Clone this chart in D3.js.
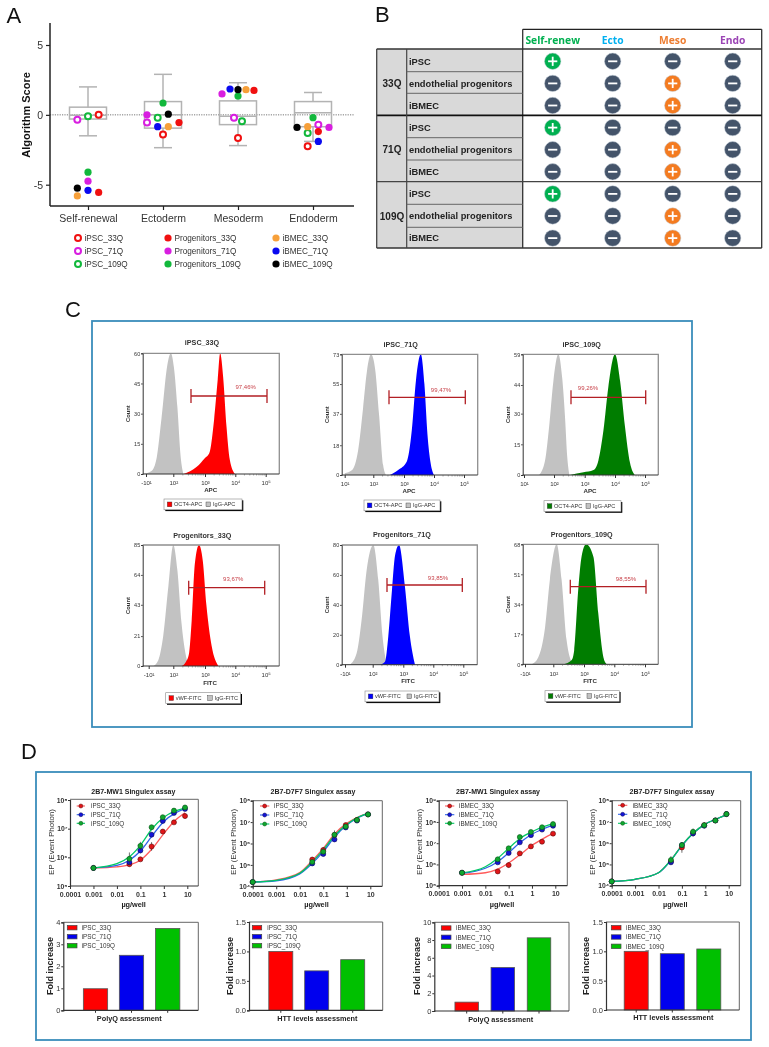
<!DOCTYPE html>
<html><head><meta charset="utf-8">
<script src="https://cdnjs.cloudflare.com/ajax/libs/d3/7.8.5/d3.min.js"></script>
<style>
html,body{margin:0;padding:0;background:#fff}
svg{display:block;filter:blur(0.5px)}
text{font-family:"Liberation Sans",Arial,sans-serif}
</style></head><body>
<svg id="c" width="769" height="1047"></svg>
<script>
/* ---------- Panel A data ---------- */
const aCategories = ["Self-renewal","Ectoderm","Mesoderm","Endoderm"];
const aGroups = ["iPSC_33Q","iPSC_71Q","iPSC_109Q","Progenitors_33Q","Progenitors_71Q","Progenitors_109Q","iBMEC_33Q","iBMEC_71Q","iBMEC_109Q"];
const aWhiskerLow  = [-1.5,-2.35,-2.2,-1.9];
const aQ1          = [-0.3,-0.95,-0.7,-0.85];
const aMedian      = [-0.03,0.0,-0.1,0.15];
const aQ3          = [0.55,0.95,1.0,0.95];
const aWhiskerHigh = [2.0,2.9,2.3,1.6];
const aScores = {
  "iPSC_33Q":[0,-1.4,-1.65,-2.25], "iPSC_71Q":[-0.35,-0.55,-0.2,-0.7], "iPSC_109Q":[-0.1,-0.2,-0.45,-1.3],
  "Progenitors_33Q":[-5.55,-0.55,1.75,-1.2], "Progenitors_71Q":[-4.75,0,1.5,-0.9], "Progenitors_109Q":[-4.1,0.85,1.35,-0.2],
  "iBMEC_33Q":[-5.8,-0.85,1.8,-0.85], "iBMEC_71Q":[-5.4,-0.85,1.85,-1.9], "iBMEC_109Q":[-5.25,0.05,1.8,-0.9]
};
const aJitter = {
  "iPSC_33Q":[2,0,0,-1], "iPSC_71Q":[-2,-3,-0.75,1], "iPSC_109Q":[0,-1,0.75,-1],
  "Progenitors_33Q":[2,3,3,1], "Progenitors_71Q":[0,-3,-3,3], "Progenitors_109Q":[0,0,0,0],
  "iBMEC_33Q":[-2,1,1.5,-1], "iBMEC_71Q":[0,-1,-1.5,1], "iBMEC_109Q":[-2,1,0,-3]
};
const aYTicks = [5,0,-5];

/* ---------- Panel B data ---------- */
const bColumns = ["Self-renew","Ecto","Meso","Endo"];
const bPassages = ["33Q","71Q","109Q"];
const bRows = ["iPSC","endothelial progenitors","iBMEC"];
const bMatrix = [
  ["+","-","-","-"],["-","-","+","-"],["-","-","+","-"],
  ["+","-","-","-"],["-","-","+","-"],["-","-","+","-"],
  ["+","-","-","-"],["-","-","+","-"],["-","-","+","-"]
];

/* ---------- Panel C data: [log position on the biexponential axis, count] ---------- */
const flowTitles = ["iPSC_33Q","iPSC_71Q","iPSC_109Q","Progenitors_33Q","Progenitors_71Q","Progenitors_109Q"];
const flowPercents = ["97,46%","99,47%","99,26%","93,67%","93,85%","98,55%"];
const flowYTicks = [[0,15,30,45,60],[0,18,37,55,73],[0,15,30,44,59],[0,21,43,64,85],[0,20,40,60,80],[0,17,34,51,68]];
const flowXTicksA = ["-10¹","10²","10³","10⁴","10⁵"];
const flowXTicksB = ["10¹","10²","10³","10⁴","10⁵"];
const isoType1 = [[0.9,0],[1.2,1.5],[1.39,8],[1.57,28],[1.78,54],[1.91,60],[2.02,53],[2.13,33],[2.23,9],[2.32,0]];
const stain1   = [[2.32,0],[2.74,3.6],[3,8],[3.14,10.3],[3.3,27],[3.42,47],[3.5,60],[3.6,48],[3.71,23.5],[3.82,7],[3.99,0]];
const isoType2 = [[1,1],[1.26,3],[1.47,15],[1.64,40],[1.78,63],[1.92,73],[2.06,64],[2.19,36],[2.32,6],[2.41,0]];
const stain2   = [[2.54,0],[2.81,3],[3.09,8],[3.26,27],[3.4,57.5],[3.56,73],[3.68,55],[3.78,25],[3.89,7],[4,0]];
const isoType3 = [[1.5,0],[1.7,7],[1.84,24],[1.98,46],[2.14,59],[2.27,47],[2.36,28],[2.43,9],[2.5,0]];
const stain3   = [[2.52,0],[2.96,1.3],[3.29,2.4],[3.45,7],[3.62,22],[3.78,43],[4,59],[4.17,46],[4.33,24],[4.5,6],[4.66,0]];
const isoType4 = [[1.19,0],[1.39,4],[1.59,21],[1.8,56],[2,85],[2.13,67],[2.26,30],[2.4,7],[2.49,0]];
const stain4   = [[2.26,0],[2.4,3],[2.49,8],[2.58,32],[2.68,72],[2.81,85],[2.93,74],[3.05,42],[3.22,14],[3.44,0]];
const isoType5 = [[1.18,0],[1.42,7.6],[1.6,30],[1.78,63],[2.02,80],[2.18,57],[2.32,19],[2.46,0]];
const stain5   = [[2.24,0],[2.4,2],[2.51,19],[2.63,50],[2.73,73],[2.86,80],[3.05,53],[3.22,19],[3.39,0]];
const isoType6 = [[1.24,0],[1.47,4],[1.71,21],[1.88,48],[2.11,68],[2.27,48],[2.43,14],[2.63,0]];
const stain6   = [[2.33,0],[2.6,2.5],[2.68,8],[2.82,44],[2.92,61],[3.07,68],[3.31,61],[3.47,29],[3.64,4],[3.75,0]];

/* ---------- Panel D data: log10 of event photons ---------- */
const dDoseLabels = ["0.0001","0.001","0.01","0.1","1","10"];
const dDoseTicks = [0.0001,0.001,0.01,0.1,1,10];
const doses1000 = [0.001,0.034,0.1,0.3,0.9,2.7,8];
const doses10000 = [0.0001,0.034,0.1,0.3,0.9,2.7,8];
const curveDoses1000 = [0.001,0.01,0.034,0.1,0.316,1,3.16,8];
const curveDoses10000 = [0.0001,0.001,0.01,0.034,0.1,0.316,1,3.16,8];
const s1pts33=[5.63,5.76,5.93,6.38,6.9,7.22,7.44], s1pts71=[5.63,5.83,6.24,6.79,7.27,7.55,7.69], s1pts109=[5.63,5.95,6.4,7.05,7.4,7.63,7.74];
const s1fit33=[5.63,5.67,5.74,5.9,6.3,6.83,7.3,7.55], s1fit71=[5.63,5.72,5.9,6.22,6.75,7.25,7.55,7.7], s1fit109=[5.63,5.78,6.02,6.42,7.0,7.4,7.62,7.72];
const s1err33=[0,0.08,0.05,0.15,0.08,0.05,0.1], s1err71=[0,0.1,0.1,0.08,0.06,0.06,0.05], s1err109=[0,0.22,0.14,0.06,0.06,0.06,0.08];
const s2pts33=[4.2,5.25,5.7,6.4,6.86,7.1,7.36], s2pts71=[4.2,5.07,5.51,6.19,6.75,7.07,7.36], s2pts109=[4.2,5.14,5.62,6.41,6.79,7.1,7.36];
const s2fit33=[4.2,4.3,4.64,5.2,5.77,6.47,6.94,7.25,7.41], s2fit71=[4.2,4.26,4.58,5.07,5.62,6.32,6.86,7.22,7.41], s2fit109=[4.2,4.28,4.61,5.14,5.7,6.4,6.89,7.24,7.41];
const s2err33=[0,0.12,0.12,0.1,0.08,0.05,0.04], s2err71=[0,0.08,0.1,0.1,0.08,0.06,0.04], s2err109=[0,0.1,0.15,0.2,0.1,0.06,0.04];
const s3pts33=[5.61,5.67,5.97,6.52,6.85,7.07,7.45], s3pts71=[5.61,6.1,6.54,7.04,7.38,7.64,7.82], s3pts109=[5.61,6.24,6.76,7.29,7.53,7.75,7.9];
const s3fit33=[5.53,5.61,5.78,6.07,6.47,6.9,7.23,7.46], s3fit71=[5.58,5.82,6.13,6.55,7.04,7.42,7.68,7.85], s3fit109=[5.6,5.89,6.29,6.76,7.23,7.54,7.78,7.92];
const s3err33=[0.05,0.06,0.12,0.06,0.05,0.05,0.06], s3err71=[0.05,0.06,0.06,0.06,0.06,0.06,0.05], s3err109=[0.05,0.06,0.06,0.08,0.06,0.06,0.06];
const s4pts33=[4.2,5.15,5.8,6.49,6.85,7.07,7.37], s4pts71=[4.2,5.1,5.91,6.46,6.82,7.07,7.37], s4pts109=[4.2,5.21,5.91,6.54,6.85,7.07,7.37];
const s4fit33=[4.2,4.3,4.61,5.21,5.9,6.49,6.9,7.15,7.33], s4fit71=[4.2,4.3,4.61,5.2,5.88,6.48,6.9,7.15,7.33], s4fit109=[4.2,4.3,4.61,5.21,5.9,6.49,6.9,7.15,7.33];
const s4err33=[0,0.12,0.25,0.15,0.12,0.05,0.04], s4err71=[0,0.12,0.12,0.15,0.12,0.05,0.04], s4err109=[0,0.18,0.12,0.15,0.12,0.05,0.04];
const ipscLabels = ["iPSC_33Q","iPSC_71Q","iPSC_109Q"];
const ibmecLabels = ["iBMEC_33Q","iBMEC_71Q","iBMEC_109Q"];
const foldPolyQipsc = [0.98,2.5,3.72], foldHTTipsc = [1.0,0.67,0.86];
const foldPolyQibmec = [1.0,4.9,8.25], foldHTTibmec = [1.0,0.96,1.04];

/* ---------- styles ---------- */
const markerColors = {"iPSC_33Q":"#f01010","iPSC_71Q":"#d81ee0","iPSC_109Q":"#12b83c","Progenitors_33Q":"#f01010","Progenitors_71Q":"#d81ee0","Progenitors_109Q":"#12b83c","iBMEC_33Q":"#f7a03a","iBMEC_71Q":"#0a0af0","iBMEC_109Q":"#000"};
const bColColors = ["#00b050","#00b0f0","#ed7d31","#9b45b5"];
const svg = d3.select("#c");
function txt(g,x,y,s,o={}){
  const t=g.append("text").attr("x",x).attr("y",y).attr("dy","0.35em").text(s)
    .attr("font-size",o.size||8).attr("font-weight",o.weight||"normal")
    .attr("text-anchor",o.anchor||"start").attr("fill",o.fill||"#222");
  if(o.family) t.style("font-family",o.family);
  if(o.spacing) t.attr("letter-spacing",o.spacing);
  if(o.rotate) t.attr("transform",`rotate(${o.rotate} ${x} ${y})`);
  return t;
}
const panelLetter=(x,y,s)=>txt(svg,x,y,s,{size:22,fill:"#111"});
panelLetter(6.5,15,"A");panelLetter(375,14,"B");panelLetter(65,309,"C");panelLetter(21,751,"D");

/* ---------- Panel A ---------- */
(function(){
  const g=svg.append("g");
  const y=d3.scaleLinear().domain([-5,5]).range([184.7,45]);
  const x=d3.scalePoint().domain(aCategories).range([88,313]);
  const boxW=37,capW=18,slot=5.33;
  g.append("line").attr("x1",50).attr("x2",354).attr("y1",y(0)).attr("y2",y(0)).attr("stroke","#777").attr("stroke-dasharray","1.2 1.2").attr("stroke-width",1);
  aCategories.forEach((c,i)=>{
    const b=g.append("g").attr("stroke","#b3b3b3").attr("stroke-width",1.5).attr("fill","none");
    const cx=x(c);
    b.append("line").attr("x1",cx).attr("x2",cx).attr("y1",y(aWhiskerHigh[i])).attr("y2",y(aQ3[i]));
    b.append("line").attr("x1",cx).attr("x2",cx).attr("y1",y(aQ1[i])).attr("y2",y(aWhiskerLow[i]));
    [aWhiskerHigh[i],aWhiskerLow[i]].forEach(v=>b.append("line").attr("x1",cx-capW/2).attr("x2",cx+capW/2).attr("y1",y(v)).attr("y2",y(v)));
    b.append("rect").attr("x",cx-boxW/2).attr("width",boxW).attr("y",y(aQ3[i])).attr("height",y(aQ1[i])-y(aQ3[i]));
    b.append("line").attr("x1",cx-boxW/2).attr("x2",cx+boxW/2).attr("y1",y(aMedian[i])).attr("y2",y(aMedian[i]));
  });
  aGroups.forEach(gr=>{
    const hollow=gr.startsWith("iPSC");
    g.selectAll(null).data(aScores[gr]).join("circle")
      .attr("cx",(d,i)=>x(aCategories[i])+aJitter[gr][i]*slot).attr("cy",d=>y(d))
      .attr("r",hollow?3:3.6).attr("fill",hollow?"#fff":markerColors[gr])
      .attr("stroke",hollow?markerColors[gr]:"none").attr("stroke-width",hollow?2:0);
  });
  const ax=g.append("g").attr("transform","translate(50,0)").call(d3.axisLeft(y).tickValues(aYTicks).tickSize(4).tickFormat(String));
  ax.select(".domain").remove();
  ax.append("line").attr("y1",23).attr("y2",206).attr("stroke","#222").attr("stroke-width",1.5);
  ax.selectAll(".tick line").attr("stroke","#222").attr("stroke-width",1.2);
  ax.selectAll("text").attr("font-size",10.5).attr("fill","#333").style("font-family","'Liberation Sans'");
  const ax2=g.append("g").attr("transform","translate(0,206)").call(d3.axisBottom(x).tickSize(4));
  ax2.select(".domain").remove();
  ax2.append("line").attr("x1",50).attr("x2",354).attr("stroke","#222").attr("stroke-width",1.5);
  ax2.selectAll(".tick line").attr("stroke","#222").attr("stroke-width",1.2);
  ax2.selectAll("text").attr("font-size",10.5).attr("fill","#333").attr("dy","0.9em").style("font-family","'Liberation Sans'");
  txt(g,25.7,115,"Algorithm Score",{size:11,weight:"bold",anchor:"middle",rotate:-90,fill:"#111"});
  const lx=[78,168,276],ly=[238,251,264];
  aGroups.forEach((gr,i)=>{
    const c=Math.floor(i/3),r=i%3,hollow=gr.startsWith("iPSC");
    g.append("circle").attr("cx",lx[c]).attr("cy",ly[r]).attr("r",hollow?3:3.6)
      .attr("fill",hollow?"#fff":markerColors[gr]).attr("stroke",hollow?markerColors[gr]:"none").attr("stroke-width",hollow?2:0);
    txt(g,lx[c]+6.5,ly[r],gr,{size:8.2,fill:"#333"});
  });
})();

/* ---------- Panel B ---------- */
(function(){
  const g=svg.append("g");
  const L=376.7,C2=406.7,V=522.7,R=761.7,T=29.3,H=49,B=248;
  const rowY=d3.scaleLinear().domain([0,8]).range([61.3,238.1]);
  const colX=d3.scalePoint().domain(bColumns).range([552.7,732.7]);
  g.append("rect").attr("x",L).attr("y",H).attr("width",V-L).attr("height",B-H).attr("fill","#d9d9d9");
  const ln=(x1,y1,x2,y2,w,c)=>g.append("line").attr("x1",x1).attr("y1",y1).attr("x2",x2).attr("y2",y2).attr("stroke-width",w).attr("stroke",c||"#333");
  ln(V,T,R,T,1.3,"#222");ln(R,T,R,B,1.3,"#333");ln(V,T,V,B,1.3,"#333");
  ln(L,H,R,H,1.7,"#333");ln(L,115.3,R,115.3,1.7,"#111");ln(L,181.7,R,181.7,1.2,"#444");ln(L,B,R,B,1.7,"#333");
  ln(L,H,L,B,1.3,"#444");ln(C2,H,C2,B,1.2,"#444");
  [71.7,93.3,137.7,160,204.3,227.3].forEach(v=>ln(C2,v,V,v,1,"#666"));
  bColumns.forEach((c,i)=>txt(g,colX(c),40.3,c,{size:10.3,weight:"bold",anchor:"middle",fill:bColColors[i],family:"'Open Sans'"}));
  bPassages.forEach((p,i)=>txt(g,392,83.3+i*66.4,p,{size:10,weight:"bold",anchor:"middle",fill:"#222"}));
  bMatrix.forEach((row,ri)=>{
    txt(g,409,rowY(ri),bRows[ri%3],{size:9.3,weight:"bold",fill:"#222"});
    row.forEach((v,ci)=>{
      const cx=colX(bColumns[ci]),cy=rowY(ri);
      const f=v==="-"?"#44546a":(ci===0?"#00b050":"#f47b20");
      g.append("circle").attr("cx",cx).attr("cy",cy).attr("r",8.2).attr("fill",f).attr("stroke","#c5ced8").attr("stroke-width",0.5);
      g.append("line").attr("x1",cx-4.6).attr("x2",cx+4.6).attr("y1",cy).attr("y2",cy).attr("stroke","#fff").attr("stroke-width",1.8);
      if(v==="+") g.append("line").attr("x1",cx).attr("x2",cx).attr("y1",cy-4.6).attr("y2",cy+4.6).attr("stroke","#fff").attr("stroke-width",1.8);
    });
  });
})();

/* ---------- Panel C ---------- */
svg.append("rect").attr("x",92).attr("y",321).attr("width",600).attr("height",406).attr("fill","none").attr("stroke","#3a8dbb").attr("stroke-width",1.8);
const flowLayout=[
 {l:142.7,r:279.3,t:353.3,b:474,ticks:[146,173.3,205,235.3,265.7],tx:202,ty:342.7,gy:396,g0:191,g1:267,px:245.7,py:387,lx:164,ly:499,lw:78,xn:"APC",xl:210.7,xy:490,c:"#ff0000",iso:isoType1,st:stain1,ft:flowXTicksA,ln:"OCT4-APC",ln2:"IgG-APC"},
 {l:341.7,r:477.7,t:354.3,b:475,ticks:[344.7,373.3,404,434,464],tx:400.7,ty:344.5,gy:397.3,g0:389,g1:465.3,px:441,py:389.7,lx:364,ly:500,lw:76,xn:"APC",xl:409,xy:491,c:"#0000ff",iso:isoType2,st:stain2,ft:flowXTicksB,ln:"OCT4-APC",ln2:"IgG-APC"},
 {l:522.7,r:658.3,t:354.3,b:475,ticks:[524,554,584.7,615,645],tx:581.7,ty:344.5,gy:397.3,g0:571,g1:645.7,px:588,py:388,lx:544,ly:500.7,lw:77,xn:"APC",xl:590,xy:491,c:"#007d00",iso:isoType3,st:stain3,ft:flowXTicksB,ln:"OCT4-APC",ln2:"IgG-APC"},
 {l:142.7,r:279.3,t:545,b:666,ticks:[148.7,173.3,205,235.3,265.7],tx:202.3,ty:535,gy:587.7,g0:188.7,g1:264.7,px:233.3,py:578.7,lx:165.7,ly:692.7,lw:75,xn:"FITC",xl:210,xy:682.7,c:"#ff0000",iso:isoType4,st:stain4,ft:flowXTicksA,ln:"vWF-FITC",ln2:"IgG-FITC"},
 {l:341.7,r:477.3,t:545,b:664.7,ticks:[345,372.7,403.3,433.3,463.3],tx:402,ty:534.7,gy:585,g0:387,g1:462.3,px:438,py:578,lx:365,ly:691,lw:74,xn:"FITC",xl:408,xy:681,c:"#0000ff",iso:isoType5,st:stain5,ft:flowXTicksA,ln:"vWF-FITC",ln2:"IgG-FITC"},
 {l:522.7,r:658.3,t:544.3,b:664.3,ticks:[525,553.3,584,614.3,645],tx:581.7,ty:534,gy:586.7,g0:570.3,g1:646,px:626,py:579,lx:545,ly:690.7,lw:74.3,xn:"FITC",xl:590,xy:681,c:"#007d00",iso:isoType6,st:stain6,ft:flowXTicksA,ln:"vWF-FITC",ln2:"IgG-FITC"}
];
flowLayout.forEach((p,i)=>{
  const g=svg.append("g");
  const x=d3.scaleLinear().domain([1,2,3,4,5]).range(p.ticks);
  const yT=flowYTicks[i];
  const y=d3.scaleLinear().domain([0,yT[4]]).range([p.b,p.t]);
  const area=d3.area().x(d=>x(d[0])).y0(p.b).y1(d=>y(d[1])).curve(d3.curveMonotoneX);
  g.append("path").attr("d",area(p.iso)).attr("fill","#c2c2c2");
  g.append("path").attr("d",area(p.st)).attr("fill",p.c);
  g.append("path").attr("d",`M${p.l},${p.t}H${p.r}V${p.b}`).attr("fill","none").attr("stroke","#8f8f8f").attr("stroke-width",1.3);
  const ax=g.append("g").attr("transform",`translate(${p.l},0)`).call(d3.axisLeft(y).tickValues(yT).tickSize(1.5).tickPadding(1).tickFormat(d3.format("d")));
  ax.select(".domain").attr("stroke","#333");ax.selectAll(".tick line").attr("stroke","#333");
  ax.selectAll("text").attr("font-size",5.5).attr("fill","#333").style("font-family","'Liberation Sans'");
  const ax2=g.append("g").attr("transform",`translate(0,${p.b})`).call(d3.axisBottom(x).tickValues([1,2,3,4,5]).tickSize(3).tickFormat((d,k)=>p.ft[k]));
  ax2.select(".domain").remove();
  ax2.append("line").attr("x1",p.l).attr("x2",p.r).attr("stroke","#333");
  ax2.selectAll(".tick line").attr("stroke","#333");
  ax2.selectAll("text").attr("font-size",6).attr("fill","#333").attr("dy","0.9em").style("font-family","'Liberation Sans'");
  const minor=[];for(let dec=2;dec<5;dec++)for(let m=2;m<10;m++)minor.push(dec+Math.log10(m));
  g.selectAll(null).data(minor).join("line").attr("x1",d=>x(d)).attr("x2",d=>x(d)).attr("y1",p.b).attr("y2",p.b+1.5).attr("stroke","#555").attr("stroke-width",0.5);
  txt(g,p.tx,p.ty,flowTitles[i],{size:7.2,weight:"bold",anchor:"middle",fill:"#333"});
  txt(g,p.xl,p.xy,p.xn,{size:6.2,weight:"bold",anchor:"middle",fill:"#333"});
  txt(g,p.l-14.5,(p.t+p.b)/2,"Count",{size:5.8,weight:"bold",anchor:"middle",rotate:-90,fill:"#333"});
  g.append("path").attr("d",`M${p.g0},${p.gy-7}V${p.gy+7}M${p.g0},${p.gy}H${p.g1}M${p.g1},${p.gy-7}V${p.gy+7}`).attr("fill","none").attr("stroke","#b21f24").attr("stroke-width",1.3);
  txt(g,p.px,p.py,flowPercents[i],{size:6,anchor:"middle",fill:"#c8424a"});
  g.append("rect").attr("x",p.lx+1.3).attr("y",p.ly+1.3).attr("width",p.lw).attr("height",10.8).attr("fill","#000");
  g.append("rect").attr("x",p.lx).attr("y",p.ly).attr("width",p.lw).attr("height",10.8).attr("fill","#fff").attr("stroke","#888").attr("stroke-width",0.6);
  g.append("rect").attr("x",p.lx+3.3).attr("y",p.ly+3).attr("width",4.6).attr("height",4.8).attr("fill",p.c).attr("stroke","#333").attr("stroke-width",0.4);
  txt(g,p.lx+10,p.ly+5.4,p.ln,{size:5.6,fill:"#333"});
  g.append("rect").attr("x",p.lx+42).attr("y",p.ly+3).attr("width",4.6).attr("height",4.8).attr("fill","#c2c2c2").attr("stroke","#333").attr("stroke-width",0.4);
  txt(g,p.lx+49,p.ly+5.4,p.ln2,{size:5.6,fill:"#333"});
});

/* ---------- Panel D ---------- */
svg.append("rect").attr("x",36).attr("y",772).attr("width",715).attr("height",268).attr("fill","none").attr("stroke","#3a8dbb").attr("stroke-width",1.8);
const seriesFill=["#e01518","#1414d8","#0fa82e"], seriesStroke=["#5a0a0a","#0a0a50","#0a4d18"], seriesLine=["#ff5a5a","#2f62e8","#00c864"];
const dLines=[
 {l:70,r:198.3,t:799.3,b:886,x0:70,x1:187.3,y0:886,y1:800,dmin:5,dmax:8,title:"2B7-MW1 Singulex assay",tx:133.3,yl:51.7,lab:ipscLabels,pd:doses1000,cd:curveDoses1000,pts:[s1pts33,s1pts71,s1pts109],fit:[s1fit33,s1fit71,s1fit109],err:[s1err33,s1err71,s1err109],leg0:76.7,leg1:85,legT:91,legY:[806,814.7,823.3]},
 {l:252.7,r:382.3,t:800.7,b:886.3,x0:252.7,x1:370.3,y0:886.3,y1:800.7,dmin:4,dmax:8,title:"2B7-D7F7 Singulex assay",tx:313,yl:233.5,lab:ipscLabels,pd:doses10000,cd:curveDoses10000,pts:[s2pts33,s2pts71,s2pts109],fit:[s2fit33,s2fit71,s2fit109],err:[s2err33,s2err71,s2err109],leg0:260,leg1:269.3,legT:274,legY:[806,815,824]},
 {l:438.7,r:567.3,t:800.7,b:885.7,x0:438.7,x1:555.3,y0:885.7,y1:800.7,dmin:5,dmax:9,title:"2B7-MW1 Singulex assay",tx:498,yl:419,lab:ibmecLabels,pd:doses1000,cd:curveDoses1000,pts:[s3pts33,s3pts71,s3pts109],fit:[s3fit33,s3fit71,s3fit109],err:[s3err33,s3err71,s3err109],leg0:445,leg1:454.3,legT:459,legY:[806,814.7,823.3]},
 {l:611.7,r:740.7,t:800.7,b:885.7,x0:611.7,x1:728.7,y0:885.7,y1:800.7,dmin:4,dmax:8,title:"2B7-D7F7 Singulex assay",tx:672,yl:592,lab:ibmecLabels,pd:doses10000,cd:curveDoses10000,pts:[s4pts33,s4pts71,s4pts109],fit:[s4fit33,s4fit71,s4fit109],err:[s4err33,s4err71,s4err109],leg0:618,leg1:627.3,legT:632.7,legY:[805.3,814.3,823.3]}
];
const sup={4:"⁴",5:"⁵",6:"⁶",7:"⁷",8:"⁸",9:"⁹"};
dLines.forEach(p=>{
  const g=svg.append("g");
  const x=d3.scaleLog().domain([0.0001,10]).range([p.x0,p.x1]);
  const y=d3.scaleLog().domain([10**p.dmin,10**p.dmax]).range([p.y0,p.y1]);
  const yTicks=d3.range(p.dmin,p.dmax+1);
  g.append("path").attr("d",`M${p.l},${p.t}H${p.r}V${p.b}`).attr("fill","none").attr("stroke","#666").attr("stroke-width",1);
  const ax=g.append("g").attr("transform",`translate(${p.l},0)`).call(d3.axisLeft(y).tickValues(yTicks.map(e=>10**e)).tickSize(2).tickPadding(0.5).tickFormat(d=>"10"+sup[Math.round(Math.log10(d))]));
  ax.select(".domain").attr("stroke","#333").attr("stroke-width",1.2);ax.selectAll(".tick line").attr("stroke","#333");
  ax.selectAll("text").attr("font-size",6.8).attr("font-weight","bold").attr("fill","#333").style("font-family","'Liberation Sans'");
  const ax2=g.append("g").attr("transform",`translate(0,${p.b})`).call(d3.axisBottom(x).tickValues(dDoseTicks).tickSize(3).tickFormat((d,i)=>dDoseLabels[i]));
  ax2.select(".domain").remove();
  ax2.append("line").attr("x1",p.l).attr("x2",p.r).attr("stroke","#333").attr("stroke-width",1.2);
  ax2.selectAll(".tick line").attr("stroke","#333");
  ax2.selectAll("text").attr("font-size",7).attr("font-weight","bold").attr("fill","#333").attr("dy","0.65em").style("font-family","'Liberation Sans'");
  txt(g,p.tx,791.7,p.title,{size:7,weight:"bold",anchor:"middle",fill:"#222"});
  txt(g,(p.x0+p.x1)/2+5,904.3,"µg/well",{size:7.3,weight:"bold",anchor:"middle",fill:"#222"});
  txt(g,p.yl,842,"EP (Event Photon)",{size:8,anchor:"middle",rotate:-90,fill:"#333"});
  const line=d3.line().x((d,i)=>x(p.cd[i])).y(d=>y(10**d)).curve(d3.curveMonotoneX);
  p.fit.forEach((f,s)=>g.append("path").attr("d",line(f)).attr("fill","none").attr("stroke",seriesLine[s]).attr("stroke-width",1.3));
  p.pts.forEach((arr,s)=>{
    const e=p.err[s];
    g.selectAll(null).data(arr).join("line").attr("x1",(d,i)=>x(p.pd[i])).attr("x2",(d,i)=>x(p.pd[i]))
      .attr("y1",(d,i)=>y(10**(d-e[i]))).attr("y2",(d,i)=>y(10**(d+e[i]))).attr("stroke","#333").attr("stroke-width",0.7);
    g.selectAll(null).data(arr).join("circle").attr("cx",(d,i)=>x(p.pd[i])).attr("cy",d=>y(10**d))
      .attr("r",2.5).attr("fill",seriesFill[s]).attr("stroke",seriesStroke[s]).attr("stroke-width",0.6);
    g.append("line").attr("x1",p.leg0).attr("x2",p.leg1).attr("y1",p.legY[s]).attr("y2",p.legY[s]).attr("stroke",seriesLine[s]).attr("stroke-width",1.1);
    g.append("circle").attr("cx",(p.leg0+p.leg1)/2).attr("cy",p.legY[s]).attr("r",2).attr("fill",seriesFill[s]).attr("stroke",seriesStroke[s]).attr("stroke-width",0.5);
    txt(g,p.legT,p.legY[s],p.lab[s],{size:6.3,fill:"#333"});
  });
});
const dBars=[
 {l:63.3,r:198.3,t:922.3,b:1010.3,dmax:4,ticks:[0,1,2,3,4],fmt:"d",centers:[95.5,131.5,167.7],w:24.3,vals:foldPolyQipsc,lab:ipscLabels,xn:"PolyQ assessment",xl:129.3,xy:1018.3,yl:50,sw0:67.3,sw1:77,swT:81.7,legY:[927.7,936.7,945.7]},
 {l:249,r:382.7,t:922,b:1010.3,dmax:1.5,ticks:[0,0.5,1,1.5],fmt:".1f",centers:[280.8,316.7,352.7],w:24,vals:foldHTTipsc,lab:ipscLabels,xn:"HTT levels assessment",xl:317.3,xy:1018.3,yl:230,sw0:252.3,sw1:261.7,swT:267.3,legY:[927.7,936.7,945.7]},
 {l:434.3,r:569,t:922.3,b:1011,dmax:10,ticks:[0,2,4,6,8,10],fmt:"d",centers:[466.7,502.8,539],w:23.5,vals:foldPolyQibmec,lab:ibmecLabels,xn:"PolyQ assessment",xl:500.7,xy:1019.3,yl:417.3,sw0:441.3,sw1:451,swT:456,legY:[928,937.3,946.3]},
 {l:606,r:739.3,t:922,b:1010,dmax:1.5,ticks:[0,0.5,1,1.5],fmt:".1f",centers:[636.2,672.3,708.8],w:24,vals:foldHTTibmec,lab:ibmecLabels,xn:"HTT levels assessment",xl:673.3,xy:1017.7,yl:585.7,sw0:611.3,sw1:621,swT:626,legY:[927.7,937,946.3]}
];
const barFill=["#ff0000","#0000ee","#00c000"];
dBars.forEach(p=>{
  const g=svg.append("g");
  const y=d3.scaleLinear().domain([0,p.dmax]).range([p.b,p.t]);
  g.append("path").attr("d",`M${p.l},${p.t}H${p.r}V${p.b}`).attr("fill","none").attr("stroke","#666").attr("stroke-width",1);
  p.vals.forEach((v,i)=>{
    g.append("rect").attr("x",p.centers[i]-p.w/2).attr("y",y(v)).attr("width",p.w).attr("height",p.b-y(v)).attr("fill",barFill[i]).attr("stroke","#555").attr("stroke-width",0.8);
    g.append("line").attr("x1",p.centers[i]).attr("x2",p.centers[i]).attr("y1",p.b).attr("y2",p.b+2.5).attr("stroke","#333");
    g.append("rect").attr("x",p.sw0).attr("y",p.legY[i]-2.2).attr("width",p.sw1-p.sw0).attr("height",4.4).attr("fill",barFill[i]).attr("stroke","#444").attr("stroke-width",0.7);
    txt(g,p.swT,p.legY[i],p.lab[i],{size:6.3,fill:"#333"});
  });
  const ax=g.append("g").attr("transform",`translate(${p.l},0)`).call(d3.axisLeft(y).tickValues(p.ticks).tickSize(2).tickPadding(1).tickFormat(d3.format(p.fmt)));
  ax.select(".domain").attr("stroke","#333").attr("stroke-width",1.2);ax.selectAll(".tick line").attr("stroke","#333");
  ax.selectAll("text").attr("font-size",7.5).attr("fill","#333").style("font-family","'Liberation Sans'");
  g.append("line").attr("x1",p.l).attr("x2",p.r).attr("y1",p.b).attr("y2",p.b).attr("stroke","#333").attr("stroke-width",1.2);
  txt(g,p.xl,p.xy,p.xn,{size:7.3,weight:"bold",anchor:"middle",fill:"#222"});
  txt(g,p.yl,966,"Fold increase",{size:9,weight:"bold",anchor:"middle",rotate:-90,fill:"#222"});
});
</script>
</body></html>
